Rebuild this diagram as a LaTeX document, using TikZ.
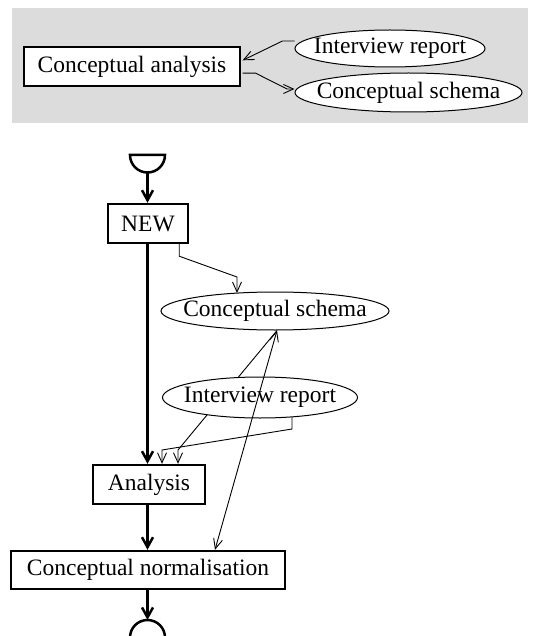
\documentclass[tikz,border=0pt]{standalone}
\usepackage{fontspec}
\setmainfont{Liberation Serif}
\usetikzlibrary{arrows.meta,shapes.geometric,calc}
\definecolor{bggray}{RGB}{220,220,220}
\tikzset{
  txt/.style={font=\fontsize{23.5}{26}\selectfont, inner sep=0pt},
  procbox/.style={draw, line width=2.4pt, inner sep=0pt, font=\fontsize{23.5}{26}\selectfont},
  prodell/.style={draw, ellipse, line width=1pt, fill=white, inner sep=0pt},
  flow/.style={line width=2.5pt, -{Straight Barb[length=10pt,width=11pt,line width=2.5pt]}},
  thinarr/.style={line width=0.9pt, -{Straight Barb[length=10pt,width=9pt,line width=0.9pt]}},
  thinline/.style={line width=0.9pt},
  symb/.style={line width=2.5pt}
}
\begin{document}
\begin{tikzpicture}[x=1pt,y=-1pt]
\useasboundingbox (0,0) rectangle (533,636);
% top gray panel
\fill[bggray] (12,8) rectangle (528,123);
\node[procbox, fill=white, minimum width=216pt, minimum height=39pt] (ca) at (132,66.5) {Conceptual analysis};
\node[prodell, minimum width=190pt, minimum height=37pt] (ir1) at (390,48.5) {};
\node[txt] (ir1t) at (ir1.center) {Interview report};
\node[prodell, minimum width=227pt, minimum height=39pt] (cs1) at (408.5,92.5) {};
\node[txt] (cs1t) at (cs1.center) {Conceptual schema};
\draw[thinarr] (ir1.west |- 0,41) -- ++(-12,0) -- ($(ca.north east)+(1.5,14.5)$);
\draw[thinarr] ($(ca.south east)+(1.5,-14)$) -- ++(13,0) -- (287,89) -- (cs1.west |- 0,89);

% lower process
\coordinate (st) at (147.5,155);
\draw[symb] (130,155) -- (165,155) arc[start angle=0, end angle=180, radius=17.5] -- cycle;
\coordinate (stb) at (147.5,172.5);
\node[procbox, minimum width=80pt, minimum height=39pt] (new) at (148,223.5) {NEW};
\node[prodell, minimum width=228pt, minimum height=38pt] (cs2) at (275,311) {};
\node[txt] (cs2t) at (cs2.center) {Conceptual schema};
\node[procbox, minimum width=112pt, minimum height=39pt] (an) at (149,484.5) {Analysis};
\node[procbox, minimum width=274pt, minimum height=38pt] (cn) at (148,570) {Conceptual normalisation};
\coordinate (en) at (147.5,620);
\draw[symb] (147.5,637.5) circle[radius=17.5];

% schema -> analysis (passes behind the interview report ellipse)
\draw[thinarr] ($(cs2.south)+(2,0)$) -- (178,450) -- (an.north -| 178,0);

\node[prodell, minimum width=195pt, minimum height=41pt] (ir2) at (260,397.5) {};
\node[txt] (ir2t) at (ir2.center) {Interview report};

\draw[flow] (stb) -- (new.north -| stb);
\draw[flow] (new.south -| stb) -- (an.north -| stb);
\draw[flow] (an.south -| stb) -- (cn.north -| stb);
\draw[flow] (cn.south -| stb) -- (en);

\draw[thinarr] ($(new.south east)+(-10,0)$) -- ++(0,12) -- (237,277) -- (237,293);
\draw[thinarr] ($(ir2.south)+(32,-1.5)$) -- ++(0,12) -- (162,450) -- (an.north -| 162,0);
\draw[thinline, {Straight Barb[length=10pt,width=9pt,line width=0.9pt]}-{Straight Barb[length=10pt,width=9pt,line width=0.9pt]}] ($(cs2.south)+(2,0)$) -- ($(cn.north)+(67,0)$);
\end{tikzpicture}
\end{document}
